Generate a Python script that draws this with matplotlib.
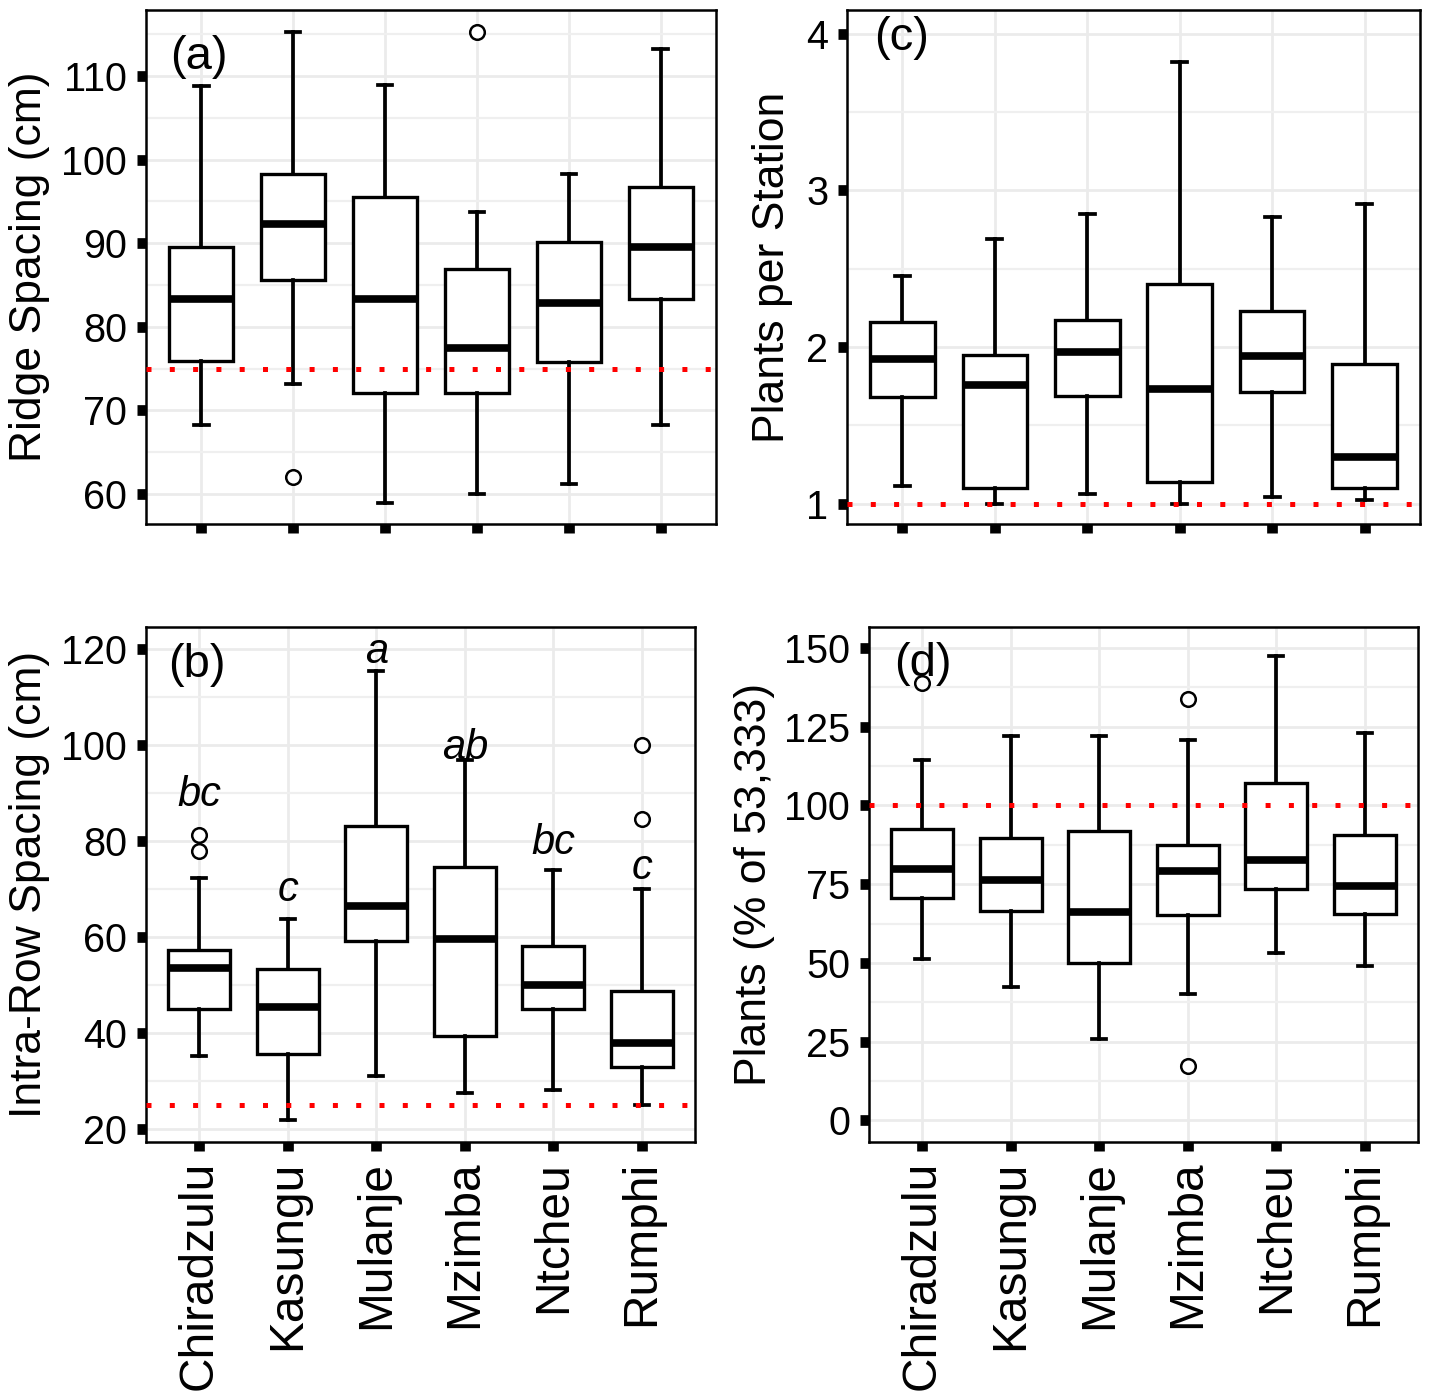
import matplotlib
matplotlib.use('Agg')
import matplotlib.pyplot as plt
from matplotlib.ticker import FixedLocator

plt.rcParams['font.family'] = ['Liberation Sans', 'DejaVu Sans']

districts = ['Chiradzulu', 'Kasungu', 'Mulanje', 'Mzimba', 'Ntcheu', 'Rumphi']

# (a) Ridge spacing (cm)
ridge_lo = [68.2, 73.2, 58.9, 60.0, 61.2, 68.2]
ridge_q1 = [75.9, 85.6, 72.1, 72.1, 75.8, 83.3]
ridge_med = [83.3, 92.3, 83.3, 77.5, 82.8, 89.6]
ridge_q3 = [89.6, 98.3, 95.5, 86.9, 90.1, 96.7]
ridge_hi = [108.8, 115.3, 108.9, 93.7, 98.3, 113.2]
ridge_out = [[], [62.0], [], [115.3], [], []]
ridge_ref = 75

# (b) Intra-row spacing (cm)
intra_lo = [35.2, 21.9, 31.0, 27.5, 28.1, 25.0]
intra_q1 = [45.0, 35.6, 59.2, 39.4, 45.0, 32.9]
intra_med = [53.5, 45.4, 66.5, 59.6, 50.0, 37.9]
intra_q3 = [57.3, 53.3, 83.1, 74.6, 58.1, 48.75]
intra_hi = [72.3, 63.75, 115.4, 96.9, 74.0, 70.0]
intra_out = [[81.2, 77.9], [], [], [], [], [100.0, 84.6]]
intra_letters = ['bc', 'c', 'a', 'ab', 'bc', 'c']
intra_letter_y = [89.6, 69.8, 119.4, 99.4, 79.6, 74.4]
intra_ref = 25

# (c) Plants per station
pps_lo = [1.11, 1.00, 1.06, 1.00, 1.04, 1.02]
pps_q1 = [1.68, 1.10, 1.69, 1.14, 1.71, 1.10]
pps_med = [1.92, 1.76, 1.97, 1.73, 1.94, 1.30]
pps_q3 = [2.16, 1.95, 2.17, 2.40, 2.23, 1.89]
pps_hi = [2.45, 2.69, 2.85, 3.82, 2.83, 2.91]
pps_out = [[], [], [], [], [], []]
pps_ref = 1

# (d) Plants (% of 53,333)
pct_lo = [51.2, 42.3, 25.8, 40.1, 53.1, 49.0]
pct_q1 = [70.6, 66.5, 50.0, 65.2, 73.4, 65.5]
pct_med = [79.8, 76.3, 66.1, 79.2, 82.7, 74.4]
pct_q3 = [92.5, 89.6, 91.9, 87.4, 107.1, 90.6]
pct_hi = [114.4, 122.0, 122.0, 120.8, 147.5, 123.0]
pct_out = [[138.9], [], [], [133.8, 17.2], [], []]
pct_ref = 100

W, H = 1430, 1395
fig = plt.figure(figsize=(W / 100, H / 100), dpi=100)


def rect(l, r, t, b):
    return [l / W, 1 - b / H, (r - l) / W, (b - t) / H]


TICK_FS = 28.5
XLAB_FS = 34.5
TITLE_FS = 32
PANEL_FS = 34


def panel(box, lo, q1, med, q3, hi, out, ref, ylim, majors, minors, ylabel,
          label, label_xy, ylab_x, show_x):
    ax = fig.add_axes(box)
    stats = []
    for i in range(len(districts)):
        stats.append(dict(whislo=lo[i], q1=q1[i], med=med[i], q3=q3[i],
                          whishi=hi[i], fliers=out[i], label=districts[i]))
    pos = list(range(1, len(districts) + 1))
    ax.bxp(stats, positions=pos, widths=0.7, capwidths=0.16,
           patch_artist=True, showfliers=True,
           boxprops=dict(facecolor='white', edgecolor='black', linewidth=2.4),
           medianprops=dict(color='black', linewidth=5.5, solid_capstyle='butt'),
           whiskerprops=dict(color='black', linewidth=2.7),
           capprops=dict(color='black', linewidth=2.7),
           flierprops=dict(marker='o', markerfacecolor='white',
                           markeredgecolor='black', markersize=10.5,
                           markeredgewidth=1.8))
    ax.axhline(ref, color='#FF0000', linewidth=3.6,
               linestyle=(0, (1, 3.66)), dash_capstyle='butt', zorder=5)
    ax.set_xlim(0.4, 6.6)
    ax.set_ylim(*ylim)
    ax.yaxis.set_major_locator(FixedLocator(majors))
    ax.yaxis.set_minor_locator(FixedLocator(minors))
    ax.set_xticks(pos)
    if show_x:
        ax.set_xticklabels(districts, rotation=90, fontsize=XLAB_FS)
    else:
        ax.set_xticklabels([])
    ax.set_yticklabels([('%g' % v) for v in majors], fontsize=TICK_FS)
    ax.tick_params(axis='both', which='major', length=6.5, width=7.7,
                   color='black', pad=7)
    ax.tick_params(axis='y', which='minor', length=0)
    ax.grid(True, which='major', color='#EBEBEB', linewidth=2.0)
    ax.grid(True, which='minor', axis='y', color='#EFEFEF', linewidth=1.6)
    ax.set_axisbelow(True)
    for s in ax.spines.values():
        s.set_linewidth(1.8)
        s.set_color('black')
    ax.set_ylabel(ylabel, fontsize=TITLE_FS)
    ax.yaxis.set_label_coords(ylab_x, 0.5)
    ax.text(label_xy[0], label_xy[1], label, transform=ax.transAxes,
            fontsize=PANEL_FS, ha='center', va='center')
    return ax


panel(rect(146, 716, 10, 524), ridge_lo, ridge_q1, ridge_med, ridge_q3,
      ridge_hi, ridge_out, ridge_ref, (56.4, 117.9),
      [60, 70, 80, 90, 100, 110], [55, 65, 75, 85, 95, 105, 115],
      'Ridge Spacing (cm)', '(a)', (0.093, 0.909), -0.168, False)

axb = panel(rect(146, 695, 627, 1142), intra_lo, intra_q1, intra_med,
            intra_q3, intra_hi, intra_out, intra_ref, (17.3, 124.6),
            [20, 40, 60, 80, 100, 120], [30, 50, 70, 90, 110],
            'Intra-Row Spacing (cm)', '(b)', (0.093, 0.926), -0.175, True)
for i, (lab, yv) in enumerate(zip(intra_letters, intra_letter_y)):
    axb.text(i + 1, yv, lab, fontsize=30, style='italic', ha='center',
             va='center', zorder=6)

panel(rect(847, 1420, 10, 524), pps_lo, pps_q1, pps_med, pps_q3, pps_hi,
      pps_out, pps_ref, (0.87, 4.15), [1, 2, 3, 4], [1.5, 2.5, 3.5],
      'Plants per Station', '(c)', (0.095, 0.945), -0.094, False)

panel(rect(869, 1418, 627, 1142), pct_lo, pct_q1, pct_med, pct_q3, pct_hi,
      pct_out, pct_ref, (-6.9, 156.7), [0, 25, 50, 75, 100, 125, 150],
      [12.5, 37.5, 62.5, 87.5, 112.5, 137.5],
      'Plants (% of 53,333)', '(d)', (0.0975, 0.928), -0.171, True)

fig.savefig('out.png', dpi=100)
